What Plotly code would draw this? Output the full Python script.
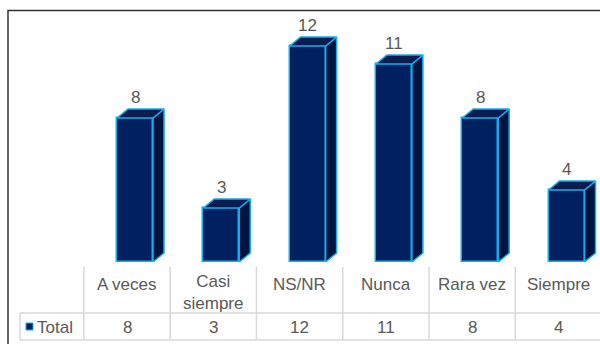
import plotly.graph_objects as go

# Survey answers and counts
categories = ["A veces", "Casi<br>siempre", "NS/NR", "Nunca", "Rara vez", "Siempre"]
values = [8, 3, 12, 11, 8, 4]
series_name = "Total"

W, H = 600, 344
FRONT = "#002060"
SIDE = "#001440"
TOP = "#0b1c50"
EDGE = "#14aef0"
TEXT = "#595959"
GRID = "#d9d9d9"
FONT = "Liberation Sans, Arial, sans-serif"
FS = 17

# pixel helpers for paper-referenced decorations
def px(x):
    return x / W

def py(y):
    return 1 - y / H

# geometry of the pseudo-3D columns (in axis units)
off = 0.093      # front face shifted right of the category centre
bw = 0.417       # front face width
dx, dy = 0.1275, 0.5  # depth offset

xs = list(range(len(values)))

fig = go.Figure()
fig.add_trace(go.Bar(
    x=[i + off for i in xs], y=values, width=bw, name=series_name,
    marker=dict(color=FRONT, line=dict(color=EDGE, width=1.5)),
    showlegend=False, hoverinfo="skip",
))

for i, v in zip(xs, values):
    xl = i + off - bw / 2
    xr = i + off + bw / 2
    # side face
    fig.add_trace(go.Scatter(
        x=[xr, xr, xr + dx, xr + dx, xr], y=[0, v, v + dy, dy, 0],
        mode="lines", fill="toself", fillcolor=SIDE,
        line=dict(color=EDGE, width=1.5), showlegend=False, hoverinfo="skip",
    ))
    # top face
    fig.add_trace(go.Scatter(
        x=[xl, xr, xr + dx, xl + dx, xl], y=[v, v, v + dy, v + dy, v],
        mode="lines", fill="toself", fillcolor=TOP,
        line=dict(color=EDGE, width=1.5), showlegend=False, hoverinfo="skip",
    ))

annotations = []
# value labels above the columns
for i, v in zip(xs, values):
    annotations.append(dict(
        x=i + off, y=v + dy, xref="x", yref="y", text=str(v), showarrow=False,
        yanchor="bottom", yshift=0, font=dict(size=FS, color=TEXT, family=FONT),
    ))

# data table under the chart: category header row and value row
LINE_GAP = 17.3
for i, (c, v) in enumerate(zip(categories, values)):
    n_lines = c.count("<br>") + 1
    annotations.append(dict(
        x=i, y=py(284 + LINE_GAP * (n_lines - 1) / 2), xref="x", yref="paper",
        text=c, showarrow=False, yanchor="middle",
        font=dict(size=FS, color=TEXT, family=FONT),
    ))
    annotations.append(dict(
        x=i, y=py(327), xref="x", yref="paper", text=str(v), showarrow=False,
        yanchor="middle", font=dict(size=FS, color=TEXT, family=FONT),
    ))
annotations.append(dict(
    x=px(35), y=py(327), xref="paper", yref="paper", text=series_name,
    showarrow=False, xanchor="left", yanchor="middle",
    font=dict(size=FS, color=TEXT, family=FONT),
))

shapes = []
for i in range(len(values) + 1):
    shapes.append(dict(type="line", xref="x", yref="paper", x0=i - 0.5, x1=i - 0.5,
                       y0=py(267), y1=py(340), line=dict(color=GRID, width=1.5)))
shapes.append(dict(type="line", xref="paper", yref="paper", x0=px(20), x1=px(20),
                   y0=py(313), y1=py(340), line=dict(color=GRID, width=1.5)))
for yy in (313, 340):
    shapes.append(dict(type="line", xref="paper", yref="paper", x0=px(20), x1=1,
                       y0=py(yy), y1=py(yy), line=dict(color=GRID, width=1.5)))
# legend key
shapes.append(dict(type="rect", xref="paper", yref="paper", x0=px(26), x1=px(33),
                   y0=py(330), y1=py(323), fillcolor=FRONT,
                   line=dict(color=EDGE, width=1)))
# chart frame
shapes.append(dict(type="path", xref="paper", yref="paper",
                   path=f"M {px(8)} 0 L {px(8)} {py(10.5)} L 1.01 {py(10.5)}",
                   line=dict(color="#333333", width=1.5)))

px_per_unit = 86.3
x0 = -127 / px_per_unit
x1 = x0 + W / px_per_unit
ppu_y = 18
y1 = 262 / ppu_y
y0 = -(H - 262) / ppu_y

fig.update_layout(
    width=W, height=H, margin=dict(l=0, r=0, t=0, b=0),
    paper_bgcolor="white", plot_bgcolor="white",
    xaxis=dict(range=[x0, x1], visible=False),
    yaxis=dict(range=[y0, y1], visible=False),
    annotations=annotations, shapes=shapes, bargap=0,
)

fig.write_html("out.html")
